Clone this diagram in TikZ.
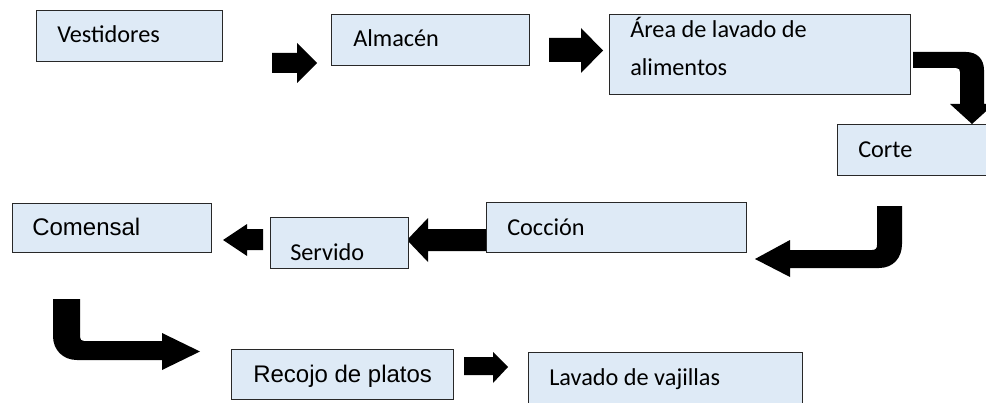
\documentclass[tikz,border=0pt]{standalone}
\usepackage{fontspec}
\setmainfont{Carlito}
\newfontfamily\arialf{Liberation Sans}
\definecolor{boxfill}{RGB}{222,234,246}
\definecolor{boxline}{RGB}{40,40,40}
\begin{document}
\begin{tikzpicture}[x=0.75pt,y=-0.75pt,
  box/.style={draw=boxline, line width=1.1pt, fill=boxfill, anchor=north west, inner sep=0pt},
  lbl/.style={anchor=base west, inner sep=0pt, font=\fontsize{18.2}{28.3}\selectfont},
  albl/.style={anchor=base west, inner sep=0pt, font=\arialf\fontsize{18}{21}\selectfont},
  blk/.style={fill=black, draw=none}]
\clip (0,0) rectangle (986,403);

% ---- block arrows (drawn under the boxes)
% Vestidores -> Almacen
\path[blk] (272,53) -- (297,53) -- (297,43) -- (317,63) -- (297,83) -- (297,73) -- (272,73) -- cycle;
% Almacen -> Area
\path[blk] (549,38) -- (581,38) -- (581,28) -- (603,50.5) -- (581,73) -- (581,62) -- (549,62) -- cycle;
% Area -> Corte (bent)
\path[blk] (913,52) -- (966,52) .. controls (977,52) and (984,59) .. (984,70) -- (984,104)
  -- (994,104) -- (972,124) -- (950,104) -- (960,104) -- (960,72)
  .. controls (960,69.5) and (959,68) .. (956,68) -- (913,68) -- cycle;
% Corte -> Coccion (bent)
\path[blk] (877,206) -- (902,206) -- (902,244) .. controls (902,258) and (893,268) .. (879,268)
  -- (790,268) -- (790,277) -- (755,259) -- (790,240) -- (790,250) -- (872,250)
  .. controls (875.5,250) and (877,248.5) .. (877,245) -- cycle;
% Coccion -> Servido
\path[blk] (490,229) -- (428,229) -- (428,218) -- (407,240) -- (428,262) -- (428,251) -- (490,251) -- cycle;
% Servido -> Comensal
\path[blk] (263,229) -- (247,229) -- (247,224) -- (223,240) -- (247,256) -- (247,250) -- (263,250) -- cycle;
% Comensal -> Recojo (bent)
\path[blk] (53,299) -- (80,299) -- (80,337) .. controls (80,339.5) and (81.5,341) .. (84,341)
  -- (162,341) -- (162,333) -- (200,351.5) -- (162,370) -- (162,360) -- (77,360)
  .. controls (63,360) and (53,350) .. (53,336) -- cycle;
% Recojo -> Lavado
\path[blk] (464,357) -- (493,357) -- (493,352) -- (508,367) -- (493,383) -- (493,375) -- (464,375) -- cycle;

% ---- boxes
\node[box, minimum width=139.5pt, minimum height=38.25pt] (vest) at (36,10) {};
\node[box, minimum width=148.5pt, minimum height=38.25pt] (alm) at (331,14) {};
\node[box, minimum width=225.75pt, minimum height=60pt] (area) at (609,14) {};
\node[box, minimum width=120pt, minimum height=38.25pt] (corte) at (837,124) {};
\node[box, minimum width=149.25pt, minimum height=36.75pt] (comen) at (12,203) {};
\node[box, minimum width=103.5pt, minimum height=38.25pt] (serv) at (270,217) {};
\node[box, minimum width=195pt, minimum height=37.5pt] (cocc) at (486,202) {};
\node[box, minimum width=166.5pt, minimum height=37.5pt] (recojo) at (231,349) {};
\node[box, minimum width=205.5pt, minimum height=45pt] (lavado) at (528,352) {};

% ---- labels
\node[lbl] (tvest) at ([shift={(21,33)}]vest.north west) {Vestidores};
\node[lbl] (talm) at ([shift={(22,33)}]alm.north west) {Almacén};
\node[lbl] (tarea) at ([shift={(21,24)}]area.north west)
  {\vtop{\baselineskip=28.3pt\hbox{Área de lavado de}\hbox{alimentos}}};
\node[lbl] (tcorte) at ([shift={(21,33)}]corte.north west) {Corte};
\node[albl] (tcomen) at ([shift={(20,32)}]comen.north west) {Comensal};
\node[lbl] (tserv) at ([shift={(20,43)}]serv.north west) {Servido};
\node[lbl] (tcocc) at ([shift={(21,33)}]cocc.north west) {Cocción};
\node[albl] (trecojo) at ([shift={(22,33)}]recojo.north west) {Recojo de platos};
\node[lbl] (tlavado) at ([shift={(21,33)}]lavado.north west) {Lavado de vajillas};
\end{tikzpicture}
\end{document}
